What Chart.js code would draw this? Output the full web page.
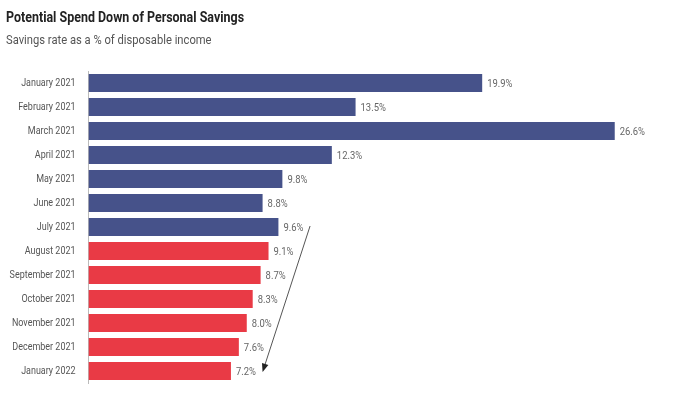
<!DOCTYPE html>
<html>
<head>
<meta charset="utf-8">
<script src="https://cdn.jsdelivr.net/npm/chart.js@4"></script>
<style>
  html, body { margin: 0; padding: 0; background: #fff; }
  #wrap { width: 699px; height: 399px; }
</style>
</head>
<body>
<div id="wrap"><canvas id="savingsChart"></canvas></div>
<script>
const months = ['January 2021', 'February 2021', 'March 2021', 'April 2021', 'May 2021', 'June 2021', 'July 2021',
    'August 2021', 'September 2021', 'October 2021', 'November 2021', 'December 2021', 'January 2022'];
const savingsRate = [19.9, 13.5, 26.6, 12.3, 9.8, 8.8, 9.6, 9.1, 8.7, 8.3, 8.0, 7.6, 7.2];
const isProjection = [false, false, false, false, false, false, false, true, true, true, true, true, true];
// arrow goes from roughly 11.2 at July to 8.8 at January 2022
const arrowFrom = { month: 'July 2021', value: 11.2 };
const arrowTo = { month: 'January 2022', value: 8.8 };

const TITLE = 'Potential Spend Down of Personal Savings';
const SUBTITLE = 'Savings rate as a % of disposable income';

const FONT = "Roboto, 'Liberation Sans', sans-serif";
const BLUE = '#46528a';
const RED = '#e93a45';

// no condensed face installed, so squeeze the text horizontally
function condensedText(ctx, text, x, y, font, color, align, squeeze) {
    ctx.save();
    ctx.font = font;
    ctx.fillStyle = color;
    ctx.textAlign = align;
    ctx.textBaseline = 'middle';
    ctx.translate(x, y);
    ctx.scale(squeeze, 1);
    ctx.fillText(text, 0, 0);
    ctx.restore();
}

const textLayer = {
    id: 'textLayer',
    afterDatasetsDraw(chart) {
        const ctx = chart.ctx;
        const { y } = chart.scales;
        const meta = chart.getDatasetMeta(0);

        condensedText(ctx, TITLE, 6, 18, 'bold 14px ' + FONT, '#222', 'left', 0.89);
        condensedText(ctx, SUBTITLE, 6, 41, '13.5px ' + FONT, '#555', 'left', 0.83);

        months.forEach((m, i) => {
            condensedText(ctx, m, y.right - 13, y.getPixelForValue(i), '11.5px ' + FONT, '#555', 'right', 0.78);
        });

        meta.data.forEach((bar, i) => {
            condensedText(ctx, savingsRate[i].toFixed(1) + '%', bar.x + 5, bar.y + 1, '11.5px ' + FONT, '#666', 'left', 0.82);
        });
    }
};

const trendArrow = {
    id: 'trendArrow',
    afterDatasetsDraw(chart) {
        const { ctx, scales: { x, y } } = chart;
        const x1 = x.getPixelForValue(arrowFrom.value);
        const y1 = y.getPixelForValue(months.indexOf(arrowFrom.month)) - 1;
        const x2 = x.getPixelForValue(arrowTo.value);
        const y2 = y.getPixelForValue(months.indexOf(arrowTo.month)) + 1;
        const ang = Math.atan2(y2 - y1, x2 - x1);
        const head = 9;
        ctx.save();
        ctx.strokeStyle = '#555';
        ctx.fillStyle = '#222';
        ctx.lineWidth = 1;
        ctx.beginPath();
        ctx.moveTo(x1, y1);
        ctx.lineTo(x2 - Math.cos(ang) * head * 0.7, y2 - Math.sin(ang) * head * 0.7);
        ctx.stroke();
        ctx.beginPath();
        ctx.moveTo(x2, y2);
        ctx.lineTo(x2 - head * Math.cos(ang - 0.38), y2 - head * Math.sin(ang - 0.38));
        ctx.lineTo(x2 - head * Math.cos(ang + 0.38), y2 - head * Math.sin(ang + 0.38));
        ctx.closePath();
        ctx.fill();
        ctx.restore();
    }
};

new Chart(document.getElementById('savingsChart'), {
    type: 'bar',
    data: {
        labels: months,
        datasets: [{
            data: savingsRate,
            backgroundColor: isProjection.map(p => p ? RED : BLUE),
            borderWidth: 0,
            categoryPercentage: 0.75,
            barPercentage: 1
        }]
    },
    options: {
        indexAxis: 'y',
        responsive: true,
        maintainAspectRatio: false,
        animation: false,
        layout: { padding: { top: 71, left: 6, right: 17, bottom: 16 } },
        scales: {
            x: { display: false, min: 0, max: 30 },
            y: {
                grid: { display: false },
                border: { display: true, color: '#bbb', width: 1 },
                ticks: { display: false },
                afterFit(scale) { scale.width = 82.5; }
            }
        },
        plugins: {
            legend: { display: false },
            tooltip: { enabled: false }
        }
    },
    plugins: [textLayer, trendArrow]
});
</script>
</body>
</html>
